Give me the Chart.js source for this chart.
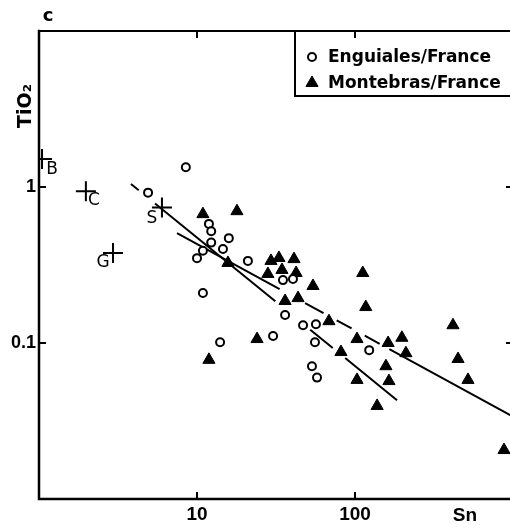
<!DOCTYPE html>
<html>
<head>
<meta charset="utf-8">
<script src="https://cdn.jsdelivr.net/npm/chart.js@4/dist/chart.umd.min.js"></script>
<style>
  html, body { margin: 0; padding: 0; background: #fff; overflow: hidden; }
  #wrap { position: relative; width: 514px; height: 528px; }
</style>
</head>
<body>
<div id="wrap"><canvas id="chart" width="514" height="528" style="width:514px;height:528px"></canvas></div>
<script>
// Sn (ppm) vs TiO2 (wt%) for two granite suites, log–log
const enguialesSn   = [4.9, 8.5, 11.9, 12.3, 12.3, 15.9, 14.6, 10.9, 10.0, 21.0, 10.9, 14.0, 30.3, 35.0, 40.5, 36.1, 46.9, 56.6, 55.8, 53.4, 57.5, 123];
const enguialesTiO2 = [0.92, 1.34, 0.58, 0.52, 0.44, 0.47, 0.40, 0.39, 0.35, 0.336, 0.209, 0.101, 0.111, 0.253, 0.257, 0.151, 0.130, 0.132, 0.101, 0.071, 0.060, 0.090];

const montebrasSn   = [10.9, 17.9, 15.7, 11.9, 24.0, 29.4, 33.0, 41.1, 28.1, 34.5, 42.4, 36.1, 43.6, 54.2, 112, 117, 68.4, 103, 81.5, 162, 198, 210, 157, 103, 164, 138, 417, 449, 519, 877];
const montebrasTiO2 = [0.67, 0.70, 0.326, 0.078, 0.106, 0.336, 0.351, 0.345, 0.277, 0.294, 0.281, 0.186, 0.194, 0.232, 0.281, 0.170, 0.138, 0.106, 0.0875, 0.100, 0.108, 0.086, 0.071, 0.058, 0.057, 0.0395, 0.130, 0.079, 0.058, 0.0206];

// reference compositions marked with crosses
const refNames = ['B', 'C', 'S', 'G'];
const refSn    = [1.045, 1.98, 6.0, 2.94];
const refTiO2  = [1.51, 0.94, 0.74, 0.377];

// trend lines (end points)
const trendSteepSn     = [3.82, 184.5];
const trendSteepTiO2   = [1.045, 0.043];
const trendShallowSn   = [7.47, 1000];
const trendShallowTiO2 = [0.507, 0.0337];

const xTickValues = [10, 100];
const yTickValues = [0.1, 1];

const pts = (xs, ys) => xs.map((x, i) => ({ x, y: ys[i] }));

const FONT = 'DejaVu Sans';
const TICK_FONT = 'Liberation Sans';

// frame with inward ticks on all four sides
const framePlugin = {
  id: 'frame',
  beforeDatasetsDraw(chart) {
    const { ctx, chartArea: a, scales: { x, y } } = chart;
    ctx.save();
    ctx.strokeStyle = '#000';
    ctx.lineCap = 'square';
    ctx.lineWidth = 2;
    ctx.beginPath();
    ctx.moveTo(a.left, a.top); ctx.lineTo(a.right, a.top);
    ctx.moveTo(a.right, a.top); ctx.lineTo(a.right, a.bottom);
    ctx.stroke();
    ctx.lineWidth = 2.5;
    ctx.beginPath();
    ctx.moveTo(a.left, a.top); ctx.lineTo(a.left, a.bottom);
    ctx.lineTo(a.right, a.bottom);
    ctx.stroke();
    ctx.lineCap = 'butt';
    ctx.lineWidth = 2;
    ctx.beginPath();
    xTickValues.forEach(v => {
      const px = Math.round(x.getPixelForValue(v));
      ctx.moveTo(px, a.bottom); ctx.lineTo(px, a.bottom - 7);
      ctx.moveTo(px, a.top); ctx.lineTo(px, a.top + 7);
    });
    yTickValues.forEach(v => {
      const py = Math.round(y.getPixelForValue(v));
      ctx.moveTo(a.left, py); ctx.lineTo(a.left + 7, py);
      ctx.moveTo(a.right, py); ctx.lineTo(a.right - 7, py);
    });
    ctx.stroke();
    ctx.restore();
  }
};

// letters beside the reference crosses, axis names and panel letter
const labelOffsets = [[10, 10], [8, 9], [-10, 11], [-10, 9]];
const textPlugin = {
  id: 'texts',
  afterDatasetsDraw(chart) {
    const { ctx } = chart;
    ctx.save();
    ctx.fillStyle = '#000';
    ctx.textAlign = 'center';
    ctx.textBaseline = 'middle';
    ctx.font = '17px "' + FONT + '"';
    const meta = chart.getDatasetMeta(2);
    meta.data.forEach((el, i) => {
      const [dx, dy] = labelOffsets[i];
      ctx.fillText(refNames[i], el.x + dx, el.y + dy);
    });
    ctx.font = 'bold 18px "' + FONT + '"';
    ctx.fillText('c', 48, 16);
    ctx.font = 'bold 19px "' + TICK_FONT + '"';
    ctx.fillText('Sn', 465, 516);
    ctx.translate(26, 106);
    ctx.rotate(-Math.PI / 2);
    ctx.font = 'bold 19px "' + FONT + '"';
    ctx.fillText('TiO\u2082', 0, 0);
    ctx.restore();
  }
};

// boxed legend in the upper right corner
const legendPlugin = {
  id: 'boxLegend',
  afterDatasetsDraw(chart) {
    const { ctx, chartArea: a } = chart;
    ctx.save();
    ctx.strokeStyle = '#000';
    ctx.lineWidth = 2;
    ctx.strokeRect(295, a.top, a.right - 295, 65);
    const rows = [{ ds: 0, y: 57, ty: 62 }, { ds: 1, y: 83, ty: 88 }];
    rows.forEach(r => {
      const d = chart.data.datasets[r.ds];
      ctx.fillStyle = d.backgroundColor;
      ctx.strokeStyle = d.borderColor;
      ctx.lineWidth = d.borderWidth;
      Chart.helpers.drawPoint(ctx, {
        pointStyle: d.pointStyle, radius: d.pointRadius,
        borderWidth: d.borderWidth, rotation: 0
      }, 312, r.y);
      ctx.fillStyle = '#000';
      ctx.font = 'bold 17px "' + FONT + '"';
      ctx.textAlign = 'left';
      ctx.textBaseline = 'alphabetic';
      ctx.fillText(d.label, 328, r.ty);
    });
    ctx.restore();
  }
};

const noPad = s => { s.paddingLeft = 0; s.paddingRight = 0; s.paddingTop = 0; s.paddingBottom = 0; };

new Chart(document.getElementById('chart'), {
  type: 'scatter',
  data: {
    datasets: [
      {
        label: 'Enguiales/France',
        data: pts(enguialesSn, enguialesTiO2),
        pointStyle: 'circle', pointRadius: 4,
        backgroundColor: '#fff', borderColor: '#000', borderWidth: 2
      },
      {
        label: 'Montebras/France',
        data: pts(montebrasSn, montebrasTiO2),
        pointStyle: 'triangle', pointRadius: 7,
        backgroundColor: '#000', borderColor: '#000', borderWidth: 1
      },
      {
        label: 'reference',
        data: pts(refSn, refTiO2),
        pointStyle: 'cross', pointRadius: 10,
        backgroundColor: '#000', borderColor: '#000', borderWidth: 2
      },
      {
        label: 'trend 1',
        data: pts(trendSteepSn, trendSteepTiO2),
        showLine: true, pointRadius: 0, borderColor: '#000', borderWidth: 2,
        borderDash: [10, 21, 155, 45, 29, 16, 80]
      },
      {
        label: 'trend 2',
        data: pts(trendShallowSn, trendShallowTiO2),
        showLine: true, pointRadius: 0, borderColor: '#000', borderWidth: 2,
        borderDash: [117, 29, 21, 15, 17, 15, 17, 11, 220]
      }
    ]
  },
  options: {
    responsive: false,
    animation: false,
    events: [],
    layout: { autoPadding: false, padding: { top: 31, right: 1, bottom: 0, left: 0 } },
    plugins: { legend: { display: false }, tooltip: { enabled: false } },
    scales: {
      x: {
        type: 'logarithmic', min: 1, max: 1000,
        grid: { display: false, drawTicks: false },
        border: { display: false },
        afterBuildTicks: s => { s.ticks = xTickValues.map(v => ({ value: v })); },
        afterFit: s => { s.height = 29; noPad(s); },
        ticks: {
          autoSkip: false, maxRotation: 0, padding: 4, color: '#000',
          font: { family: TICK_FONT, size: 19, weight: 'bold' },
          callback: v => String(v)
        }
      },
      y: {
        type: 'logarithmic', min: 0.01, max: 10,
        grid: { display: false, drawTicks: false },
        border: { display: false },
        afterBuildTicks: s => { s.ticks = yTickValues.map(v => ({ value: v })); },
        afterFit: s => { s.width = 39; noPad(s); },
        ticks: {
          autoSkip: false, padding: 3, color: '#000',
          font: { family: TICK_FONT, size: 18, weight: 'bold' },
          callback: v => String(v)
        }
      }
    }
  },
  plugins: [framePlugin, textPlugin, legendPlugin]
});
</script>
</body>
</html>
